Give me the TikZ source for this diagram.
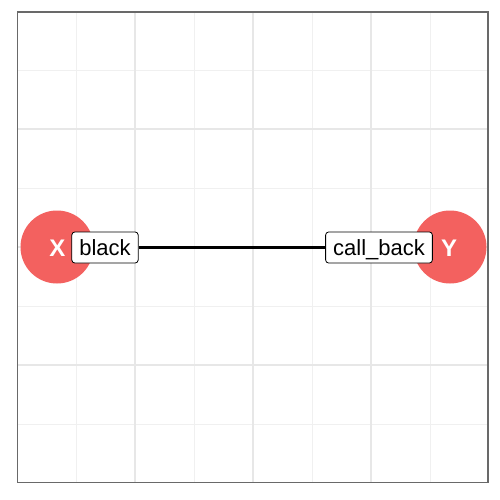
\documentclass[tikz,border=0pt]{standalone}
\usepackage{fontspec}
\setmainfont{Liberation Sans}
\definecolor{nodered}{RGB}{243,97,95}
\definecolor{gridmajor}{RGB}{231,231,231}
\definecolor{gridminor}{RGB}{240,240,240}
\definecolor{panelborder}{RGB}{105,105,105}
\tikzset{
  majorgrid/.style={draw=gridmajor, line width=1.3pt},
  minorgrid/.style={draw=gridminor, line width=0.8pt},
  bignode/.style={circle, fill=nodered, minimum size=73pt, inner sep=0pt},
  nodetext/.style={text=white, font=\fontsize{24}{26}\selectfont\bfseries},
  edgelabel/.style={draw=black, fill=white, rounded corners=3pt, line width=0.8pt,
    font=\fontsize{22}{24}\selectfont, text height=16pt, text depth=0pt,
    inner xsep=7.5pt, inner ysep=7.5pt},
  edgeline/.style={draw=black, line width=2.2pt}
}
\begin{document}
\begin{tikzpicture}[x=1pt,y=-1pt]
\useasboundingbox (0,0) rectangle (500,500);
\fill[white] (0,0) rectangle (500,500);
% grid
\foreach \v in {76,194,312,430} {\draw[minorgrid] (\v,12) -- (\v,482.5);}
\foreach \v in {70,188,306,424} {\draw[minorgrid] (17.5,\v) -- (488,\v);}
\foreach \v in {135,253,371} {\draw[majorgrid] (\v,12) -- (\v,482.5);}
\foreach \v in {129,247,365} {\draw[majorgrid] (17.5,\v) -- (488,\v);}
% nodes
\node[bignode] (X) at (57,247) {};
\node[bignode] (Y) at (450,247) {};
\node[nodetext] (Xt) at (57.5,248) {X};
\node[nodetext] (Yt) at (449,248) {Y};
% labels
\node[edgelabel] (lblack) at (105,247.5) {black};
\node[edgelabel] (lcall) at (379,247.5) {call\_back};
\draw[edgeline] (lblack.east) -- (lcall.west);
% panel border
\draw[panelborder, line width=1.2pt] (17.5,12) rectangle (488,482.5);
\end{tikzpicture}
\end{document}
